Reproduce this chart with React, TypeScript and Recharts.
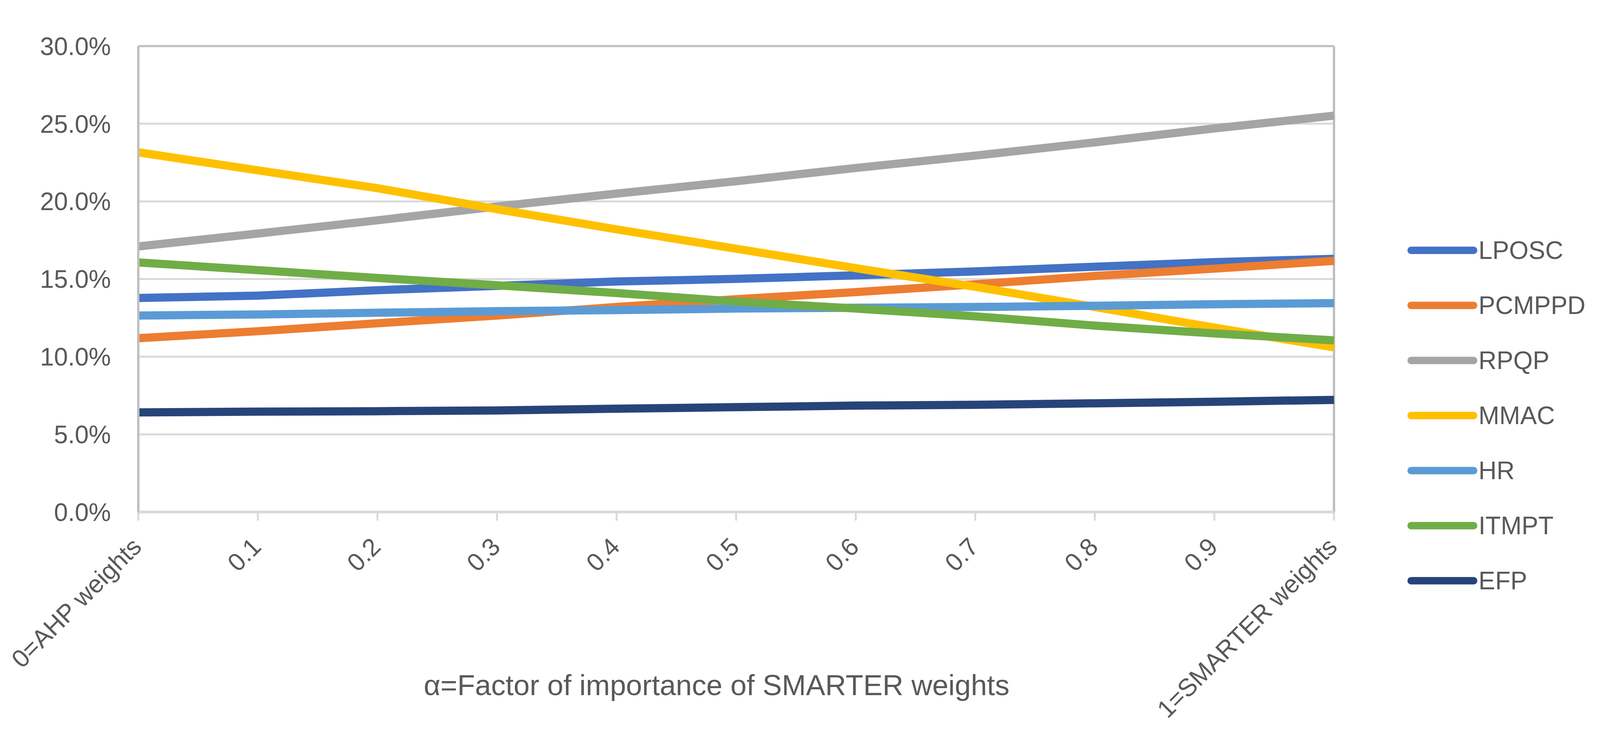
import {
  LineChart,
  Line,
  XAxis,
  YAxis,
  CartesianGrid,
  Legend,
  ReferenceLine,
} from "recharts";

const categories = ["0=AHP weights", "0.1", "0.2", "0.3", "0.4", "0.5", "0.6", "0.7", "0.8", "0.9", "1=SMARTER weights"];

const LPOSC = [13.78, 13.93, 14.28, 14.56, 14.84, 15.01, 15.24, 15.49, 15.79, 16.09, 16.3];
const PCMPPD = [11.19, 11.64, 12.15, 12.65, 13.2, 13.7, 14.16, 14.66, 15.2, 15.67, 16.17];
const RPQP = [17.1, 17.93, 18.78, 19.67, 20.5, 21.3, 22.15, 22.95, 23.8, 24.7, 25.52];
const MMAC = [23.16, 22.0, 20.85, 19.5, 18.2, 16.95, 15.7, 14.5, 13.2, 11.87, 10.6];
const HR = [12.65, 12.72, 12.83, 12.93, 13.0, 13.1, 13.15, 13.2, 13.28, 13.38, 13.45];
const ITMPT = [16.07, 15.57, 15.07, 14.6, 14.1, 13.55, 13.1, 12.6, 12.0, 11.5, 11.05];
const EFP = [6.41, 6.46, 6.49, 6.54, 6.65, 6.75, 6.85, 6.9, 7.0, 7.1, 7.22];

const yTicks = [0, 5, 10, 15, 20, 25, 30];

const xTitle = "α=Factor of importance of SMARTER weights";

const series = [
  { name: "LPOSC", values: LPOSC, color: "#4472C4" },
  { name: "PCMPPD", values: PCMPPD, color: "#ED7D31" },
  { name: "RPQP", values: RPQP, color: "#A5A5A5" },
  { name: "MMAC", values: MMAC, color: "#FFC000" },
  { name: "HR", values: HR, color: "#5B9BD5" },
  { name: "ITMPT", values: ITMPT, color: "#70AD47" },
  { name: "EFP", values: EFP, color: "#264478" },
];

const seriesOrder = series.map((s) => s.name);

const data = categories.map((cat, i) => {
  const row: Record<string, string | number> = { cat };
  series.forEach((s) => {
    row[s.name] = s.values[i];
  });
  return row;
});

const TEXT = "#595959";
const FONT = "'Liberation Sans', Arial, sans-serif";

function XTick({ x, y, payload }: any) {
  return (
    <g transform={`translate(${x + 12},${y + 71})`}>
      <text x={0} y={0} transform="rotate(-45)" textAnchor="end" fill={TEXT} fontSize={64} fontFamily={FONT}>
        {payload.value}
      </text>
    </g>
  );
}

function LegendList({ payload }: any) {
  // keep the series order instead of Recharts' alphabetical sort
  const items = [...(payload || [])].sort(
    (a: any, b: any) => seriesOrder.indexOf(a.value) - seriesOrder.indexOf(b.value)
  );
  return (
    <div style={{ fontFamily: FONT, fontSize: 64, color: TEXT }}>
      {items.map((p: any) => (
        <div key={p.value} style={{ height: 141, display: "flex", alignItems: "center" }}>
          <svg width={192} height={30} style={{ display: "block" }}>
            <line x1={19.5} y1={15} x2={179.5} y2={15} stroke={p.color} strokeWidth={19} strokeLinecap="round" />
          </svg>
          <span style={{ lineHeight: 1 }}>{p.value}</span>
        </div>
      ))}
    </div>
  );
}

function TitleLabel({ viewBox }: any) {
  return (
    <text
      x={viewBox.x + viewBox.width / 2 - 50}
      y={viewBox.y + 469}
      textAnchor="middle"
      fill={TEXT}
      fontSize={74}
      fontFamily={FONT}
    >
      {xTitle}
    </text>
  );
}

export default function App() {
  return (
    <LineChart
      width={4093}
      height={1907}
      data={data}
      margin={{ top: 110, right: 686, left: 0, bottom: 0 }}
      style={{ fontFamily: FONT, background: "#fff" }}
    >
      <CartesianGrid vertical={false} stroke="#d9d9d9" strokeWidth={5} />
      <XAxis
        dataKey="cat"
        height={604}
        interval={0}
        tick={<XTick />}
        tickSize={22}
        tickMargin={0}
        axisLine={{ stroke: "#d9d9d9", strokeWidth: 7 }}
        tickLine={{ stroke: "#d9d9d9", strokeWidth: 5 }}
        label={{ content: <TitleLabel /> }}
      />
      <YAxis
        width={346}
        domain={[0, 30]}
        ticks={yTicks}
        interval={0}
        tickFormatter={(v: number) => `${v.toFixed(1)}%`}
        tick={{ fill: TEXT, fontSize: 64, fontFamily: FONT }}
        tickSize={0}
        tickMargin={70}
        axisLine={{ stroke: "#bfbfbf", strokeWidth: 6 }}
        tickLine={false}
      />
      <ReferenceLine y={30} stroke="#bfbfbf" strokeWidth={5} />
      <ReferenceLine x={categories[categories.length - 1]} stroke="#bfbfbf" strokeWidth={6} />
      <Legend
        layout="vertical"
        verticalAlign="middle"
        align="center"
        content={<LegendList />}
        wrapperStyle={{ left: 3585, top: 562, width: 500 }}
      />
      {series.map((s) => (
        <Line
          key={s.name}
          type="linear"
          dataKey={s.name}
          stroke={s.color}
          strokeWidth={21}
          dot={false}
          activeDot={false}
          isAnimationActive={false}
        />
      ))}
    </LineChart>
  );
}
